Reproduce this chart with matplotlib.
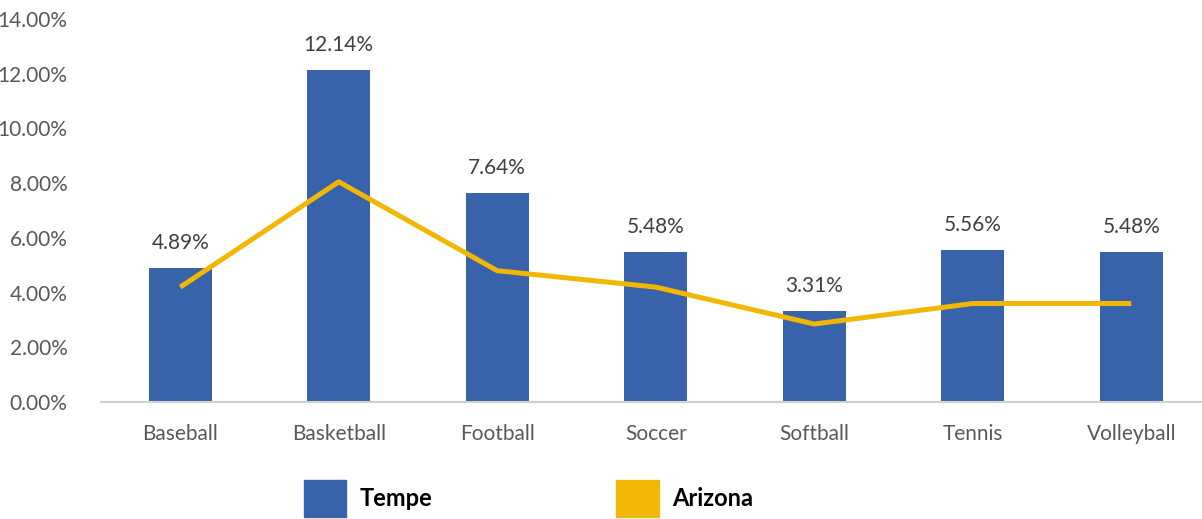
import matplotlib
matplotlib.use("agg")
import matplotlib.pyplot as plt
from matplotlib.patches import Patch
import numpy as np

sports = ["Baseball", "Basketball", "Football", "Soccer", "Softball", "Tennis", "Volleyball"]
tempe = [4.89, 12.14, 7.64, 5.48, 3.31, 5.56, 5.48]
arizona = [4.2, 8.05, 4.8, 4.2, 2.85, 3.6, 3.6]
yticks = [0, 2, 4, 6, 8, 10, 12, 14]

blue = "#3862a9"
gold = "#f2b705"

plt.rcParams["font.family"] = ["Lato", "DejaVu Sans"]

fig = plt.figure(figsize=(12.02, 5.19), dpi=100)
ax = fig.add_axes([101 / 1202, 1 - 402 / 519, 1100 / 1202, 383 / 519])

x = np.arange(len(sports))
bars = ax.bar(x, tempe, width=0.4, color=blue, zorder=2)
ax.bar_label(bars, labels=[f"{v:.2f}%" for v in tempe], padding=11,
             fontsize=15, color="#404040")
ax.plot(x, arizona, color=gold, linewidth=3.6, solid_joinstyle="round",
        solid_capstyle="butt", zorder=3)

ax.set_xlim(-0.5, 6.44)
ax.set_ylim(0, 14)
ax.set_yticks(yticks)
ax.set_yticklabels([f"{v:.2f}%" for v in yticks])
ax.set_xticks(x)
ax.set_xticklabels(sports)
ax.tick_params(axis="y", length=0, pad=24, labelsize=15, labelcolor="#595959")
ax.tick_params(axis="x", length=0, pad=16, labelsize=15, labelcolor="#595959")

for s in ["top", "right", "left"]:
    ax.spines[s].set_visible(False)
ax.spines["bottom"].set_color("#d0d0d0")
ax.spines["bottom"].set_linewidth(1.5)

handles = [Patch(color=blue, label="Tempe"), Patch(color=gold, label="Arizona")]
fig.legend(handles=handles, loc="lower left", bbox_to_anchor=(292 / 1202, -0.018),
           ncol=2, frameon=False, borderpad=0.0, handlelength=1.8, handleheight=2.0,
           handletextpad=0.55, columnspacing=7.8,
           prop={"family": "Lato", "weight": "bold", "size": 17})

fig.savefig("out.png", dpi=100)
